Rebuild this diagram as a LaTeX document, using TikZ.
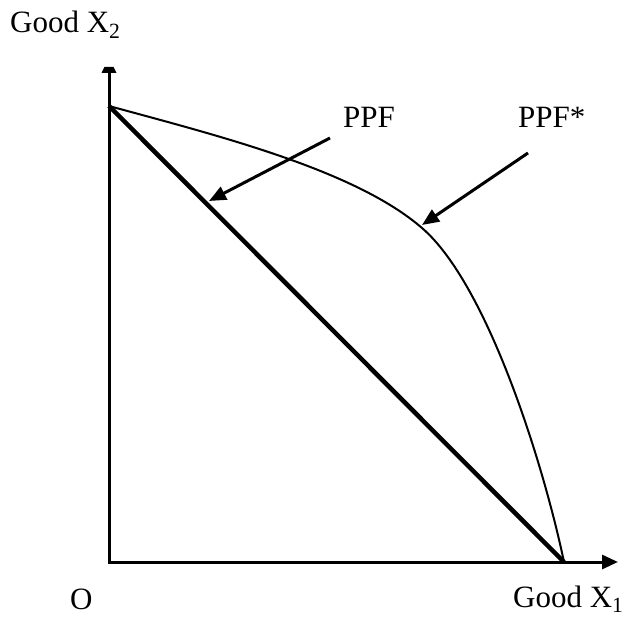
\documentclass[tikz,border=0pt]{standalone}
\usepackage{fontspec}
\setmainfont{Liberation Serif}
\usetikzlibrary{arrows.meta}
\tikzset{
  lab/.style={inner sep=0pt, anchor=base west, font=\fontsize{31}{36}\selectfont},
  axisline/.style={line width=3pt},
  ppfline/.style={line width=4.5pt},
  curveline/.style={line width=2pt},
  pointer/.style={line width=3pt, -{Triangle[length=17pt,width=14pt]}}
}
\begin{document}
\begin{tikzpicture}[x=1pt,y=-1pt]
\useasboundingbox (0,0) rectangle (631,617);
% points
\coordinate (O) at (109,562);
\coordinate (Ytop) at (109,72);
\coordinate (Xend) at (618,562);
\coordinate (A) at (109,106);
\coordinate (B) at (564,562);
\coordinate (P) at (422,228);
\coordinate (p1s) at (330,138);
\coordinate (p1e) at (209,201);
\coordinate (p2s) at (528,153);
\coordinate (p2e) at (422,225);
% axes
\draw[axisline,line cap=rect] (Ytop) -- (O);
\draw[axisline,-{Triangle[length=16pt,width=14pt]}] (O) -- (Xend);
\fill (101.5,73) -- (116.5,73) -- (113.5,67) -- (104.5,67) -- cycle;
% PPF
\draw[ppfline] (A) -- (B);
% PPF*
\draw[curveline] (A) .. controls (219,136) and (355,170) .. (P)
                     .. controls (487,284) and (543,462) .. (B);
% pointers
\draw[pointer] (p1s) -- (p1e);
\draw[pointer] (p2s) -- (p2e);
% labels
\node[lab] (gx2) at (10,33) {Good X\textsubscript{2}};
\node[lab] (gx1) at (513,607) {Good X\textsubscript{1}};
\node[lab] (o) at (70,609) {O};
\node[lab] (ppf) at (343,128) {PPF};
\node[lab] (ppfs) at (518,128) {PPF*};
\end{tikzpicture}
\end{document}
